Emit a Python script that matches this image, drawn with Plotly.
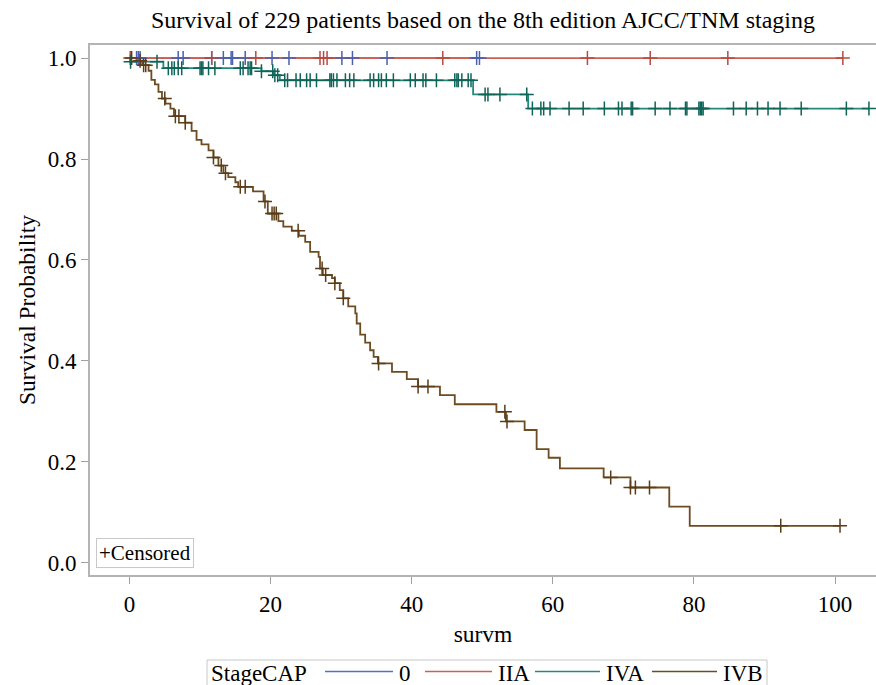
import plotly.graph_objects as go

# ---------------- data ----------------
groups = ["0", "IIA", "IVA", "IVB"]
colors = {"0": "#5570bd", "IIA": "#cc5f55", "IVA": "#24897d", "IVB": "#6e4c22"}
mark_colors = {"0": "#4a60b0", "IIA": "#b84a40", "IVA": "#0f6458", "IVB": "#5a3c18"}

# step (event) times and survival after each step
steps_0_t = []
steps_0_s = []
steps_IIA_t = []
steps_IIA_s = []
steps_IVA_t = [0.1, 4.8, 18.7, 20.4, 21.3, 48.7, 56.5]
steps_IVA_s = [0.993, 0.980, 0.974, 0.966, 0.956, 0.928, 0.900]
steps_IVB_t = [1.0, 1.8, 2.7, 3.1, 3.6, 4.1, 4.6, 5.1, 5.8, 6.3, 7.9, 8.8, 9.5, 10.2,
               11.2, 11.9, 12.6, 13.3, 14.0, 15.0, 15.4, 17.5, 19.0, 19.6, 21.1, 21.8,
               23.0, 24.0, 24.9, 25.6, 26.8, 27.0, 27.4, 28.7, 29.1, 29.8, 30.3, 31.0,
               32.0, 32.2, 32.7, 33.4, 34.1, 34.6, 35.2, 37.2, 39.3, 40.9, 44.0, 46.1,
               52.0, 53.35, 56.0, 57.7, 59.4, 61.0, 67.2, 71.0, 76.5, 79.4]
steps_IVB_s = [0.995, 0.986, 0.975, 0.957, 0.948, 0.933, 0.920, 0.910, 0.900, 0.885,
               0.872, 0.856, 0.838, 0.829, 0.817, 0.803, 0.787, 0.772, 0.764, 0.754,
               0.745, 0.736, 0.716, 0.692, 0.677, 0.666, 0.658, 0.648, 0.636, 0.616,
               0.606, 0.583, 0.570, 0.564, 0.554, 0.540, 0.524, 0.508, 0.494, 0.474,
               0.452, 0.436, 0.421, 0.408, 0.395, 0.378, 0.364, 0.349, 0.332, 0.314,
               0.299, 0.280, 0.263, 0.225, 0.208, 0.187, 0.169, 0.149, 0.111, 0.073]

# censored times
cens_0 = [1.0, 1.25, 1.5, 6.9, 7.6, 11.65, 13.3, 14.4, 14.6, 16.4, 20.2, 22.6,
          30.1, 31.6, 36.5, 49.2, 49.6]
cens_IIA = [0.1, 11.65, 17.9, 27.0, 27.5, 28.0, 44.4, 64.9, 73.8, 84.8, 101.1]
cens_IVA = [0.15, 3.9, 5.5, 6.0, 6.35, 6.9, 7.4, 10.0, 10.2, 10.4, 11.2, 12.1, 15.7,
            16.1, 16.8, 17.1, 17.3, 18.7, 20.3, 20.6, 21.0, 22.0, 22.4, 23.6, 24.2,
            25.1, 25.6, 26.5, 28.4, 28.6, 28.9, 29.4, 30.6, 31.2, 31.8, 34.1, 34.6,
            35.3, 35.7, 36.4, 37.4, 39.8, 40.5, 41.6, 42.0, 43.5, 46.1, 46.4, 46.6,
            47.1, 48.0, 48.4, 50.4, 50.8, 52.5, 56.3, 57.1, 58.3, 58.7, 59.6, 62.3,
            64.3, 67.3, 69.3, 69.8, 71.1, 71.3, 74.5, 76.6, 78.8, 79.0, 80.7, 80.9,
            81.1, 81.3, 85.6, 87.4, 89.0, 90.5, 92.2, 95.2, 101.6, 104.8]
cens_IVB = [0.3, 1.5, 2.0, 2.3, 5.0, 6.5, 7.0, 7.9, 11.9, 13.0, 13.6, 15.7, 16.4,
            19.2, 20.2, 20.5, 20.8, 23.9, 27.3, 27.8, 29.1, 30.3, 35.3, 40.9, 42.3,
            53.2, 53.5, 68.2, 71.0, 71.7, 73.7, 92.3, 100.7]

steps = {"0": (steps_0_t, steps_0_s), "IIA": (steps_IIA_t, steps_IIA_s),
         "IVA": (steps_IVA_t, steps_IVA_s), "IVB": (steps_IVB_t, steps_IVB_s)}
cens = {"0": cens_0, "IIA": cens_IIA, "IVA": cens_IVA, "IVB": cens_IVB}


def surv_at(ts, ss, t):
    v = 1.0
    for a, b in zip(ts, ss):
        if a <= t:
            v = b
    return v


FONT = "Liberation Serif"
fig = go.Figure()

for g in groups:
    ts, ss = steps[g]
    end = max(cens[g] + ts)
    x = [0.0] + list(ts) + [end]
    y = [1.0] + list(ss) + [ss[-1] if ss else 1.0]
    fig.add_trace(go.Scatter(x=x, y=y, mode="lines", line=dict(shape="hv", color=colors[g], width=1.8),
                             name=g, legendgroup=g, showlegend=False, hoverinfo="skip"))

for g in groups:
    ts, ss = steps[g]
    cx = cens[g]
    cy = [surv_at(ts, ss, t) for t in cx]
    fig.add_trace(go.Scatter(x=cx, y=cy, mode="markers", showlegend=False, legendgroup=g,
                             marker=dict(symbol="cross-thin", size=10,
                                         line=dict(color=mark_colors[g], width=1.5))))

# ---------- layout geometry ----------
W, H = 876, 685
ML, MT, MB = 90, 45, 110
PW, PH = W - ML, H - MT - MB


def px_x(p):  # screen pixel -> paper x
    return (p - ML) / PW


def px_y(p):  # screen pixel -> paper y
    return (H - MB - p) / PH


# bottom legend (drawn manually to mimic long line samples)
shapes = [dict(type="rect", xref="paper", yref="paper", x0=px_x(207), x1=px_x(767),
               y0=px_y(700), y1=px_y(660), line=dict(color="#c8c8c8", width=1),
               fillcolor="white", layer="above")]
annotations = [dict(text="StageCAP", xref="paper", yref="paper", x=px_x(209), y=px_y(673),
                    xanchor="left", yanchor="middle", showarrow=False,
                    font=dict(family=FONT, size=23, color="black"))]
leg_line = {"0": (325, 393), "IIA": (425, 492), "IVA": (535, 600), "IVB": (652, 717)}
for g in groups:
    a, b = leg_line[g]
    shapes.append(dict(type="line", xref="paper", yref="paper", x0=px_x(a), x1=px_x(b),
                       y0=px_y(671.5), y1=px_y(671.5), line=dict(color=colors[g], width=1.5)))
    annotations.append(dict(text=g, xref="paper", yref="paper", x=px_x(b + 4), y=px_y(673),
                            xanchor="left", yanchor="middle", showarrow=False,
                            font=dict(family=FONT, size=23, color="black")))

annotations.append(dict(text="+Censored", xref="paper", yref="paper", x=px_x(96), y=px_y(568),
                        xanchor="left", yanchor="bottom", showarrow=False,
                        font=dict(family=FONT, size=21, color="black"),
                        bordercolor="#c8c8c8", borderwidth=1, borderpad=2, bgcolor="white"))

fig.update_layout(
    width=W, height=H,
    margin=dict(l=ML, r=0, t=MT, b=MB, autoexpand=False),
    paper_bgcolor="white", plot_bgcolor="white",
    font=dict(family=FONT, size=23, color="black"),
    title=dict(text="Survival of 229 patients based on the 8th edition AJCC/TNM staging",
               x=0.5, xref="paper", xanchor="center", y=1 - 20 / H, yanchor="middle",
               font=dict(family=FONT, size=24, color="black")),
    showlegend=False,
    shapes=shapes,
    annotations=annotations,
)
fig.update_xaxes(range=[-5.6, 105.8], tickvals=[0, 20, 40, 60, 80, 100], ticks="outside",
                 ticklen=7, tickcolor="#a0a0a0", showline=True, linecolor="#b4b4b4", linewidth=2,
                 mirror=True, showgrid=False, zeroline=False, automargin=False,
                 title=dict(text="survm", font=dict(family=FONT, size=23.5), standoff=10),
                 tickfont=dict(family=FONT, size=23))
fig.update_yaxes(range=[-0.0244, 1.026], tickvals=[0, 0.2, 0.4, 0.6, 0.8, 1.0], tickformat=".1f",
                 ticks="outside", ticklen=7, tickcolor="#a0a0a0", showline=True, linecolor="#b4b4b4",
                 linewidth=2, mirror=True, showgrid=False, zeroline=False, automargin=False,
                 title=dict(text="Survival Probability", font=dict(family=FONT, size=23.5), standoff=5),
                 tickfont=dict(family=FONT, size=23))

fig.write_html("out.html", config={"displayModeBar": False},
               post_script="document.body.style.margin='0';document.body.style.overflow='hidden';")
